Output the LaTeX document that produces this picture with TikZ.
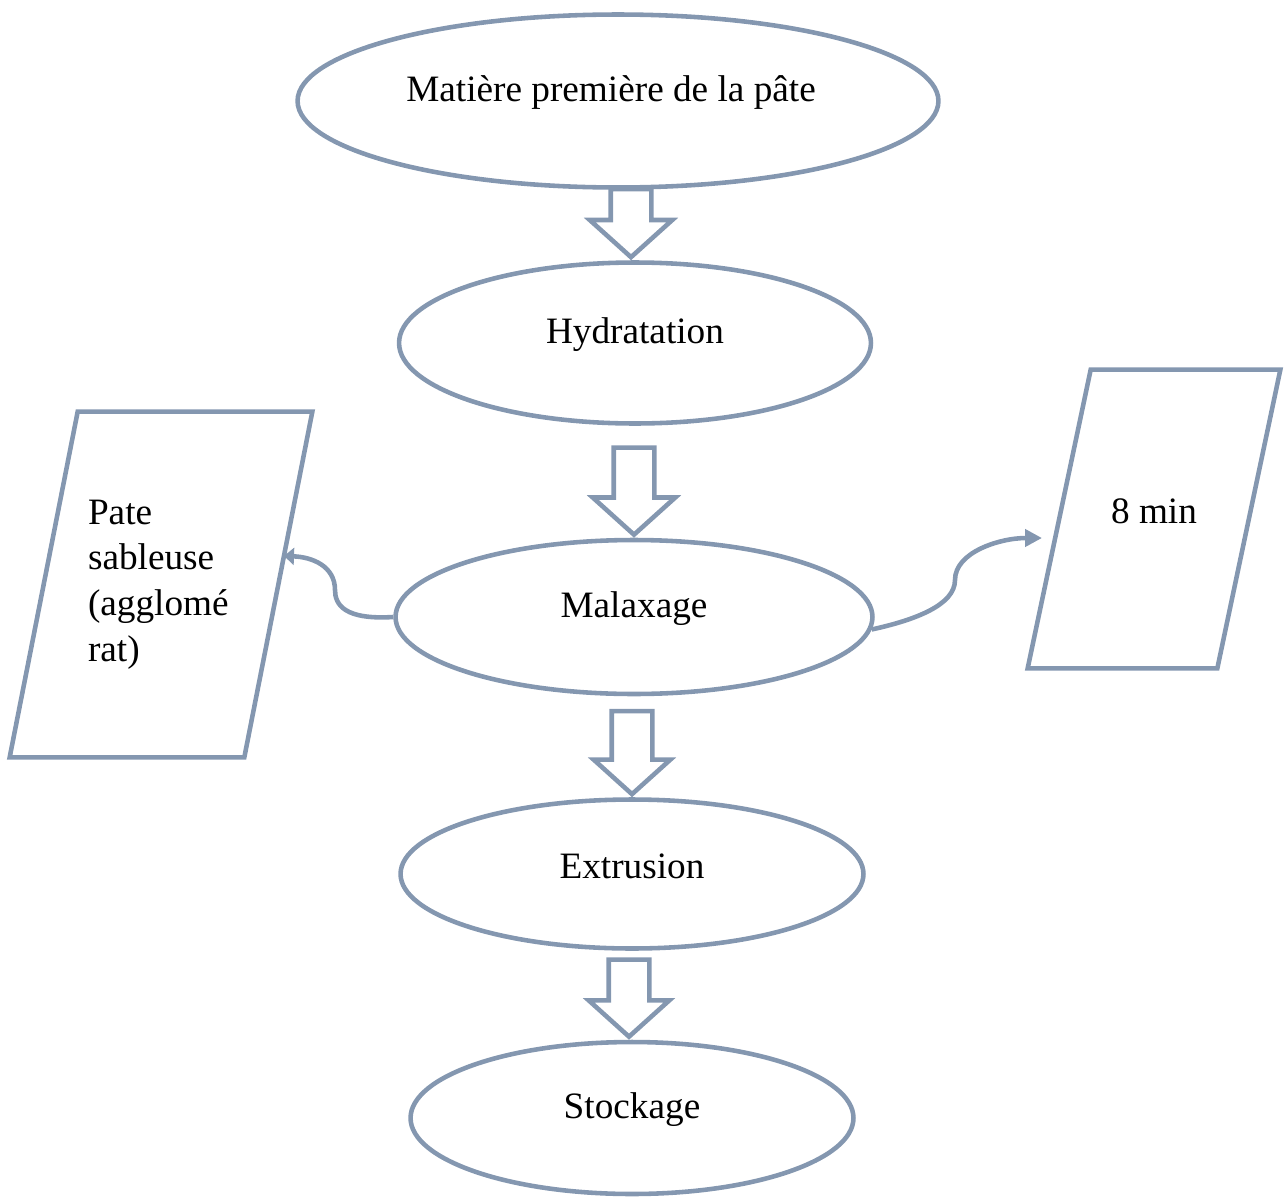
\documentclass[tikz,border=0pt]{standalone}
\usepackage{fontspec}
\setmainfont{Liberation Serif}
\usetikzlibrary{shapes.geometric, shapes.arrows, arrows.meta, calc}
\definecolor{flowgray}{RGB}{132, 151, 176}

\begin{document}
\begin{tikzpicture}[
  x=0.02cm, y=-0.02cm,
  etape/.style={draw=flowgray, line width=2.6pt, ellipse, inner sep=0pt},
  etxt/.style={font=\fontsize{21.2}{26}\selectfont, yshift=0.16cm},
  sortie/.style={rectangle, inner sep=2pt, font=\fontsize{21.2}{26}\selectfont},
  cadre/.style={draw=flowgray, line width=2.6pt, line join=miter},
  fleche/.style={draw=flowgray, line width=2.6pt, single arrow, shape border rotate=270, single arrow head indent=0pt, single arrow tip angle=96, inner sep=0.36cm, anchor=tip},
  lien/.style={draw=flowgray, line width=2.6pt}
]
  \useasboundingbox (0,0) rectangle (1284,1200);

  % etapes du procede
  \node[etape, minimum width=12.82cm, minimum height=3.46cm, label={[etxt, xshift=-0.14cm]center:Matière première de la pâte}] (mat) at (618,101) {};
  \node[etape, minimum width=9.44cm, minimum height=3.22cm, label={[etxt]center:Hydratation}] (hyd) at (635,343) {};
  \node[etape, minimum width=9.54cm, minimum height=3.08cm, label={[etxt]center:Malaxage}] (mal) at (634,617) {};
  \node[etape, minimum width=9.26cm, minimum height=2.98cm, label={[etxt]center:Extrusion}] (ext) at (632,874) {};
  \node[etape, minimum width=8.86cm, minimum height=3.04cm, label={[etxt]center:Stockage}] (sto) at (632,1118) {};

  % sorties laterales
  \node[sortie, minimum width=4.68cm, minimum height=6.9cm, text width=2.92cm, align=left] (pate) at (161,584.5) {Pate\\sableuse\\(agglomé\\rat)};
  \draw[cadre] ($(pate.north west)+(34,0)$) -- ($(pate.north east)+(34,0)$)
    -- ($(pate.south east)+(-34,0)$) -- ($(pate.south west)+(-34,0)$) -- cycle;
  \coordinate (patein) at (284,556);

  \node[sortie, minimum width=3.78cm, minimum height=5.96cm, label={[etxt]center:8 min}] (duree) at (1154,519) {};
  \draw[cadre] ($(duree.north west)+(31.5,0)$) -- ($(duree.north east)+(31.5,0)$)
    -- ($(duree.south east)+(-31.5,0)$) -- ($(duree.south west)+(-31.5,0)$) -- cycle;
  \coordinate (dureein) at (1042,538);

  % fleches creuses
  \node[fleche, minimum height=1.36cm, single arrow head extend=0.42cm] (f1) at ([xshift=-0.08cm]hyd.north) {};
  \node[fleche, minimum height=1.74cm, single arrow head extend=0.42cm] (f2) at (mal.north) {};
  \node[fleche, minimum height=1.66cm, single arrow head extend=0.36cm] (f3) at (ext.north) {};
  \node[fleche, minimum height=1.54cm, single arrow head extend=0.4cm] (f4) at ([xshift=-0.06cm]sto.north) {};

  % liens courbes
  \draw[lien, -{Triangle[length=0.2cm, width=0.34cm]}] (mal.west) .. controls (345,620) and (335,605) .. (335,590)
    .. controls (335,566) and (312,557) .. (patein);
  \draw[lien, -{Triangle[length=0.34cm, width=0.34cm]}] (mal.-3) .. controls (915,620) and (955,605) .. (955,580)
    .. controls (955,552) and (1000,538) .. (dureein);
\end{tikzpicture}
\end{document}
